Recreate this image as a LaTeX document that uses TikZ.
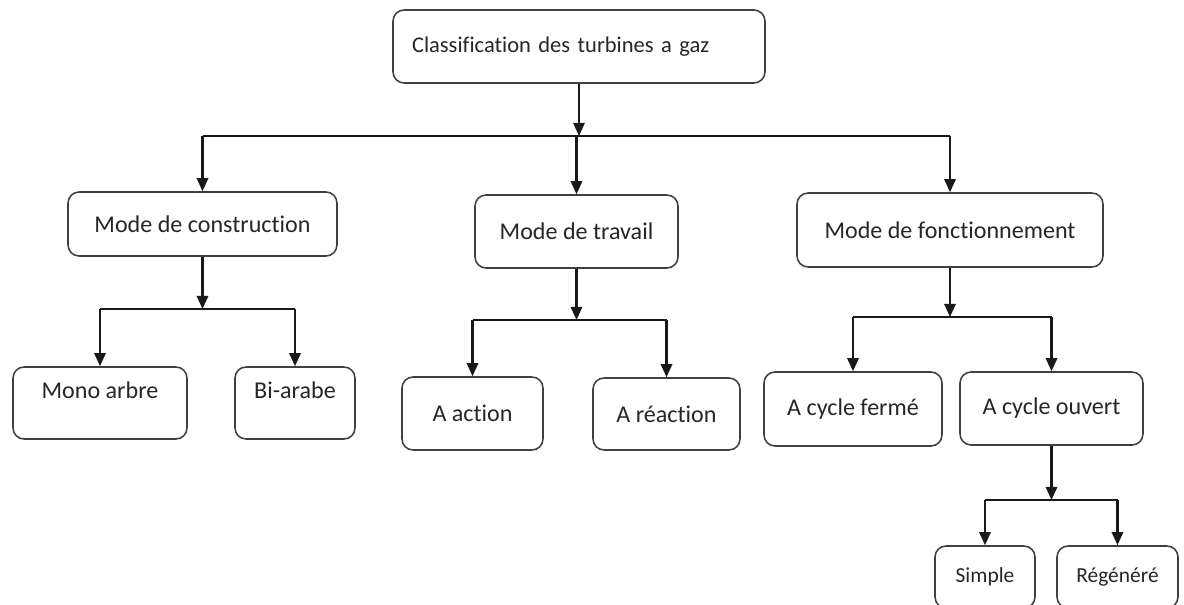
\documentclass[tikz,border=0pt]{standalone}
\usepackage{fontspec}
\setmainfont{Carlito}[Ligatures=NoCommon]
\usetikzlibrary{arrows.meta,positioning}
\tikzset{>={Triangle[width=6.5pt,length=7.5pt]}}
\tikzset{boite/.style={draw=black!75,line width=0.9pt,rounded corners=0.22cm,inner sep=0pt,align=center,
    font=\fontsize{13.7}{16}\selectfont,text=black!85}}
\tikzset{petite/.style={boite,font=\fontsize{12.2}{14}\selectfont}}
\tikzset{haut/.style={text height=0.34cm,text depth=0.54cm}}
\tikzset{fleche/.style={->,line width=1.2pt,black!90}}
\tikzset{trait/.style={line width=1.2pt,black!90}}

\begin{document}
\begin{tikzpicture}[x=0.02cm,y=-0.02cm]
        \useasboundingbox (0,0) rectangle (1184,605);
        \clip (0,0) rectangle (1184,605);
        % les boites
        \node[boite,font=\fontsize{12.8}{15}\selectfont,minimum width=7.44cm,minimum height=1.46cm,text width=6.68cm,align=left] (titre) at (579,46.5) {Classification des turbines a gaz};
        \node[boite,minimum width=5.38cm,minimum height=1.28cm] (constr) at (202.5,224) {Mode de construction};
        \node[boite,minimum width=4.06cm,minimum height=1.46cm] (travail) at (576.5,231.5) {Mode de travail};
        \node[boite,minimum width=6.12cm,minimum height=1.48cm] (fonct) at (950,230) {Mode de fonctionnement};
        \node[boite,haut,minimum width=3.48cm,minimum height=1.44cm] (mono) at (100,403) {Mono arbre};
        \node[boite,haut,minimum width=2.4cm,minimum height=1.44cm] (bi) at (295,403) {Bi-arabe};
        \node[boite,minimum width=2.82cm,minimum height=1.46cm] (action) at (472.5,413.5) {A action};
        \node[boite,minimum width=2.94cm,minimum height=1.44cm] (reaction) at (666.5,414) {A réaction};
        \node[boite,minimum width=3.56cm,minimum height=1.48cm] (ferme) at (853,409) {A cycle fermé};
        \node[boite,minimum width=3.66cm,minimum height=1.46cm] (ouvert) at (1051.5,408.5) {A cycle ouvert};
        \node[petite,minimum width=2.0cm,minimum height=1.24cm] (simple) at (985,577) {Simple};
        \node[petite,minimum width=2.42cm,minimum height=1.24cm] (regen) at (1117.5,577) {Régénéré};
        % les niveaux des branches
        \coordinate (n1) at (0,136);
        \coordinate (n2) at (0,309);
        \coordinate (n3) at (0,320);
        \coordinate (n4) at (0,317);
        \coordinate (n5) at (0,500);
        \draw[fleche] (titre.south) -- (titre.south |- n1);
        \draw[trait] (constr.north |- n1) -- (fonct.north |- n1);
        \draw[fleche] (constr.north |- n1) -- (constr.north);
        \draw[fleche] (travail.north |- n1) -- (travail.north);
        \draw[fleche] (fonct.north |- n1) -- (fonct.north);
        \draw[fleche] (constr.south) -- (constr.south |- n2);
        \draw[trait] (mono.north |- n2) -- (bi.north |- n2);
        \draw[fleche] (mono.north |- n2) -- (mono.north);
        \draw[fleche] (bi.north |- n2) -- (bi.north);
        \draw[fleche] (travail.south) -- (travail.south |- n3);
        \draw[trait] (action.north |- n3) -- (reaction.north |- n3);
        \draw[fleche] (action.north |- n3) -- (action.north);
        \draw[fleche] (reaction.north |- n3) -- (reaction.north);
        \draw[fleche] (fonct.south) -- (fonct.south |- n4);
        \draw[trait] (ferme.north |- n4) -- (ouvert.north |- n4);
        \draw[fleche] (ferme.north |- n4) -- (ferme.north);
        \draw[fleche] (ouvert.north |- n4) -- (ouvert.north);
        \draw[fleche] (ouvert.south) -- (ouvert.south |- n5);
        \draw[trait] (simple.north |- n5) -- (regen.north |- n5);
        \draw[fleche] (simple.north |- n5) -- (simple.north);
        \draw[fleche] (regen.north |- n5) -- (regen.north);
\end{tikzpicture}
\end{document}
